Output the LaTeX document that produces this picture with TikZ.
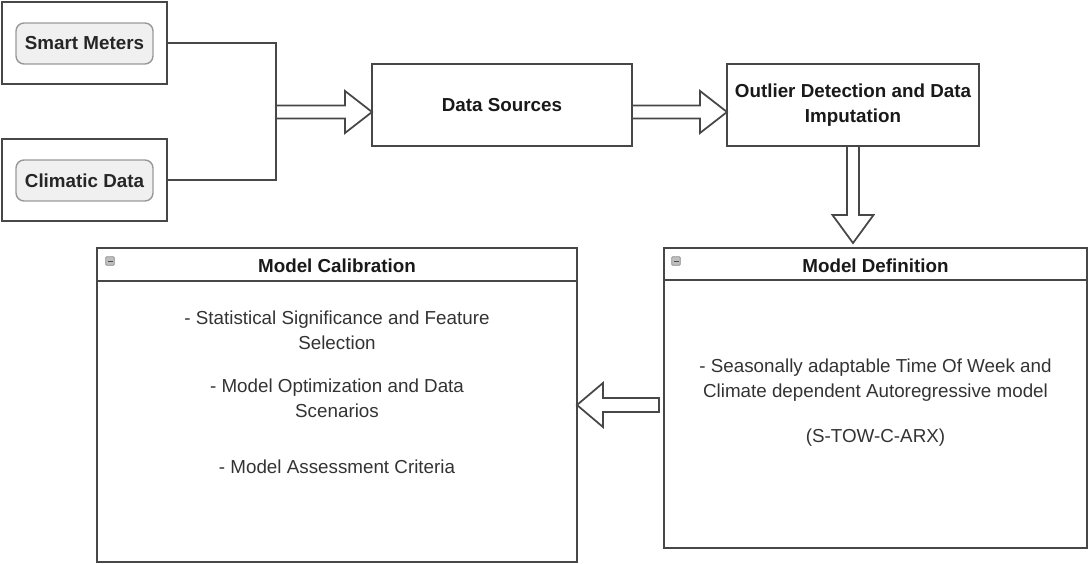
\documentclass[tikz,border=0pt]{standalone}
\usepackage{fontspec}
\setmainfont{Liberation Sans}
\usetikzlibrary{positioning,calc}

\newcommand\fs{\fontsize{10.7pt}{14.2pt}\selectfont}
\tikzset{
  wire/.style={draw=black!72, line width=1pt},
  box/.style={wire, inner sep=0pt, outer sep=0pt, align=center, text=black!90, font=\bfseries\fs, minimum height=1.64cm},
  tag/.style={draw=black!40, fill=black!6, line width=0.8pt, rounded corners=0.16cm, inner sep=0pt, text=black!85, font=\bfseries\fs, minimum width=2.74cm, minimum height=0.82cm},
  lane/.style={wire, inner sep=0pt, outer sep=0pt},
  title/.style={font=\bfseries\fs, text=black!90},
  item/.style={align=center, text=black!80, font=\fs},
  icon/.style={draw=black!45, fill=black!25, line width=0.4pt, rounded corners=0.5pt, minimum size=0.17cm, inner sep=0pt},
  blockarrow/.style={wire, fill=white, line join=miter},
}

\begin{document}
\begin{tikzpicture}[x=0.02cm, y=-0.02cm]
\useasboundingbox (0,0) rectangle (1089,564);

\node[box, minimum width=3.3cm] (smbox) at (84.5,43) {};
\node[tag] (sm) at (84.5,43.5) {Smart Meters};
\node[box, minimum width=3.3cm] (cdbox) at (84.5,180) {};
\node[tag] (cd) at (84.5,180.5) {Climatic Data};
\coordinate (join) at (276,112);
\draw[wire] (smbox.east) -| (join) |- (cdbox.east);

\node[box, minimum width=5.2cm] (ds) at (502,105) {Data Sources};
\node[box, minimum width=5.04cm] (od) at (853,105) {Outlier Detection and Data\\Imputation};

\node[lane, minimum width=9.6cm, minimum height=6.28cm] (cal) at (337,405) {};
\node[lane, minimum width=8.46cm, minimum height=6cm] (def) at (875.5,398) {};
\draw[wire] ($(cal.north west)+(0,33)$) -- ($(cal.north east)+(0,33)$);
\draw[wire] ($(def.north west)+(0,32)$) -- ($(def.north east)+(0,32)$);
\node[title] (caltitle) at ($(cal.north)+(0,18)$) {Model Calibration};
\node[title] (deftitle) at ($(def.north)+(0,18)$) {Model Definition};
\node[icon] (calicon) at ($(cal.north west)+(13,13)$) {};
\node[icon] (deficon) at ($(def.north west)+(12,13)$) {};
\draw[black!70, line width=0.6pt] ($(calicon.center)+(-2.5,0)$) -- ($(calicon.center)+(2.5,0)$);
\draw[black!70, line width=0.6pt] ($(deficon.center)+(-2.5,0)$) -- ($(deficon.center)+(2.5,0)$);

\node[item] (cal1) at (337,330.5) {- Statistical Significance and Feature\\Selection};
\node[item] (cal2) at (337,398.5) {- Model Optimization and Data\\Scenarios};
\node[item] (cal3) at (337,467) {- Model Assessment Criteria};
\node[item] (def1) at (875.5,380) {- Seasonally adaptable Time Of Week and\\Climate dependent Autoregressive model};
\node[item] (def2) at (875.5,438) {(S-TOW-C-ARX)};

\coordinate (a1) at (ds.west |- join);
\draw[blockarrow] ($(join)+(0,-6.5)$) -- ($(a1)+(-27,-6.5)$) -- ($(a1)+(-27,-21)$) -- (a1) -- ($(a1)+(-27,21)$) -- ($(a1)+(-27,6.5)$) -- ($(join)+(0,6.5)$) -- cycle;
\coordinate (s2) at (ds.east |- join);
\coordinate (a2) at (od.west |- join);
\draw[blockarrow] ($(s2)+(0,-6.5)$) -- ($(a2)+(-27,-6.5)$) -- ($(a2)+(-27,-21)$) -- (a2) -- ($(a2)+(-27,21)$) -- ($(a2)+(-27,6.5)$) -- ($(s2)+(0,6.5)$) -- cycle;
\coordinate (a3) at ($(od.south |- def.north)+(0,-5)$);
\draw[blockarrow] ($(od.south)+(-6,0)$) -- ($(a3)+(-6,-28)$) -- ($(a3)+(-20.5,-28)$) -- (a3) -- ($(a3)+(20.5,-28)$) -- ($(a3)+(6,-28)$) -- ($(od.south)+(6,0)$) -- cycle;
\coordinate (s4) at ($(def.west |- cal.east)+(-5,0)$);
\draw[blockarrow] ($(s4)+(0,-7)$) -- ($(cal.east)+(26,-7)$) -- ($(cal.east)+(26,-22)$) -- (cal.east) -- ($(cal.east)+(26,22)$) -- ($(cal.east)+(26,7)$) -- ($(s4)+(0,7)$) -- cycle;
\end{tikzpicture}
\end{document}
